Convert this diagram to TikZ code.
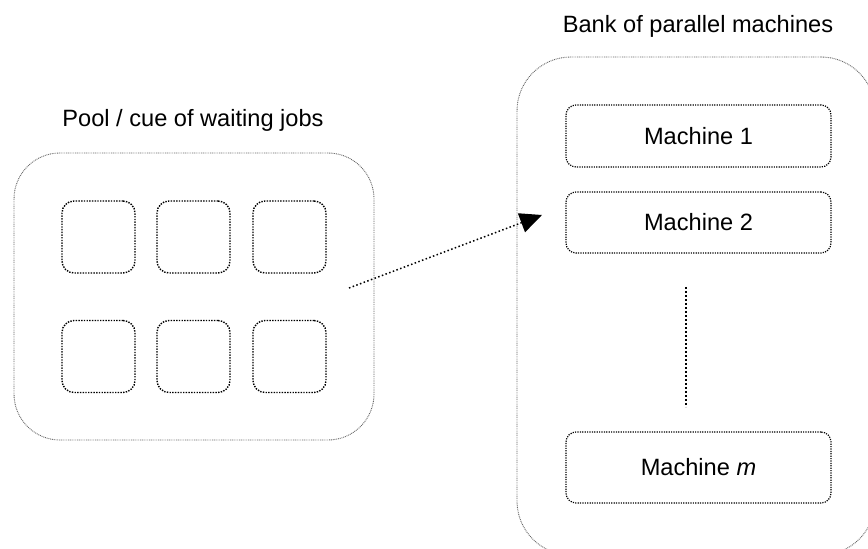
\documentclass[tikz,border=0pt]{standalone}
\usepackage{fontspec}
\setmainfont{Liberation Sans}
\usetikzlibrary{arrows.meta}
\begin{document}
\begin{tikzpicture}[x=0.5pt,y=-0.5pt,
  outerbox/.style={draw=black!60, line width=0.45pt, dash pattern=on 0.45pt off 0.45pt, rounded corners=#1, inner sep=0pt},
  jobbox/.style={draw=black, line width=0.7pt, dash pattern=on 0.7pt off 0.65pt, rounded corners=6pt, inner sep=0pt,
    minimum width=36.5pt, minimum height=36pt},
  machbox/.style={draw=black, line width=0.6pt, dash pattern=on 0.6pt off 0.6pt, rounded corners=5pt, inner sep=0pt,
    minimum width=132.5pt, font=\fontsize{11.8}{14}\selectfont},
  title/.style={font=\fontsize{11.8}{14}\selectfont, anchor=base, inner sep=0pt},
  flow/.style={draw=black, line width=0.75pt, dash pattern=on 0.75pt off 1.2pt, -{Triangle[length=11pt,width=10pt]}}
]
\useasboundingbox (0,0) rectangle (868,549);

% titles
\node[title] (tpool) at (193,127) {Pool / cue of waiting jobs};
\node[title] (tbank) at (698,33) {Bank of parallel machines};

% pool
\node[outerbox=23pt, minimum width=180pt, minimum height=143.5pt] (pool) at (194,296.5) {};
\node[jobbox] (j11) at (98.5,237) {};
\node[jobbox] (j12) at (193.5,237) {};
\node[jobbox] (j13) at (289.5,237) {};
\node[jobbox] (j21) at (98.5,356.5) {};
\node[jobbox] (j22) at (193.5,356.5) {};
\node[jobbox] (j23) at (289.5,356.5) {};

% bank
\node[outerbox=27pt, minimum width=179pt, minimum height=249pt] (bank) at (696,306) {};
\node[machbox, minimum height=31pt] (m1) at (698.5,136) {Machine 1};
\node[machbox, minimum height=30.5pt] (m2) at (698.5,222.5) {Machine 2};
\node[machbox, minimum height=35.5pt] (mm) at (698.5,467.5) {Machine \textit{m}};

% ellipsis line
\coordinate (ea) at (686,287);
\coordinate (eb) at (686,407);
\draw[black, line width=1.1pt, dash pattern=on 1.1pt off 0.9pt] (ea) -- (eb);

% arrow
\coordinate (as) at (349,288);
\coordinate (ae) at (542,215);
\draw[flow] (as) -- (ae);
\end{tikzpicture}
\end{document}
